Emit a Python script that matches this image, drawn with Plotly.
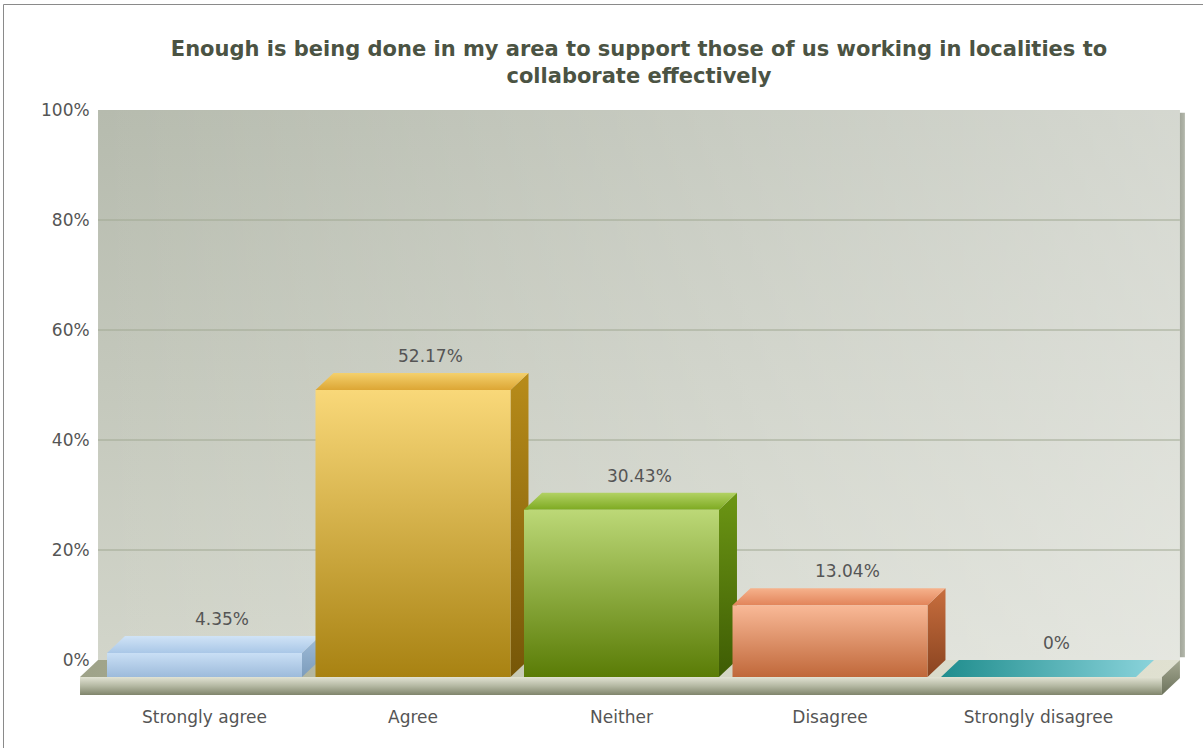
import plotly.graph_objects as go

# ---- data -------------------------------------------------------------
categories = ["Strongly agree", "Agree", "Neither", "Disagree", "Strongly disagree"]
values = [4.35, 52.17, 30.43, 13.04, 0]
y_ticks = [0, 20, 40, 60, 80, 100]
y_tick_labels = [f"{t}%" for t in y_ticks]
title_text = ("Enough is being done in my area to support those of us working in localities to"
              "<br>collaborate effectively")

# ---- per-bar palette: front (bottom, top), top face, side (bottom, top) -----
front_colors = [("#9dbbdb", "#c9dff5"), ("#a88212", "#f9d879"), ("#5a7c06", "#bcd877"),
                ("#c0683a", "#f9b997"), ("#1e8a8c", "#5fc0c8")]
top_colors = [("#a9c7e7", "#d0e3f6"), ("#dca634", "#f4d06c"), ("#7eaa22", "#b2d264"),
              ("#e2845a", "#f6b28c"), ("#1f8d8d", "#8ad3db")]
top_gradient = ["vertical", "vertical", "vertical", "vertical", "horizontal"]
side_colors = [("#7c9cbc", "#9fbcd8"), ("#765608", "#b88c1a"), ("#3e5c04", "#6c9614"),
               ("#8a4420", "#c86e3e"), ("#1a7070", "#3a9898")]

# ---- geometry (category units on x, percent of the back wall on y) ----
X_RANGE = [-0.9808, 4.7890]
Y_RANGE = [-16.0, 120.0]
HALF_W = 0.4676          # half of a bar's front face width
DX = 0.0863              # depth offset to the right
DY = 3.09                # depth offset upward
SLAB = 3.27              # floor thickness
FLOOR_L, FLOOR_R = -0.597, 4.592
WALL_L, WALL_R = FLOOR_L + DX, FLOOR_R + DX

FONT = "DejaVu Sans"
TEXT_COLOR = "#555555"


def face(xs, ys, stops, kind="vertical"):
    """Filled polygon with a linear gradient."""
    return go.Scatter(
        x=list(xs) + [xs[0]], y=list(ys) + [ys[0]],
        mode="lines", fill="toself",
        line=dict(width=0, color="rgba(0,0,0,0)"),
        fillgradient=dict(type=kind, colorscale=[[i / (len(stops) - 1), c] for i, c in enumerate(stops)]),
        hoverinfo="skip", showlegend=False,
    )


fig = go.Figure()

# back wall
wall_x = [WALL_L, WALL_R, WALL_R, WALL_L]
wall_y = [0, 0, 100, 100]
fig.add_trace(face(wall_x, wall_y, ["#d2d5ca", "#b6bbae"]))
fig.add_trace(face(wall_x, wall_y, ["rgba(255,255,255,0)", "rgba(255,255,255,0.42)"], "horizontal"))
fig.add_trace(face([WALL_R, WALL_R + 0.024, WALL_R + 0.024, WALL_R], [0.5, 0.5, 99.5, 99.5],
                   ["#a2a69a", "#b4b8ac"], "horizontal"))

# grid lines on the wall
for t in y_ticks[1:-1]:
    fig.add_trace(go.Scatter(x=[WALL_L, WALL_R], y=[t, t], mode="lines",
                             line=dict(color="#a0a892", width=1),
                             hoverinfo="skip", showlegend=False))

# floor slab
fig.add_trace(face([FLOOR_L, FLOOR_R, WALL_R, WALL_L], [-DY, -DY, 0, 0],
                   ["#9ea288", "#d2d4c2", "#e0e1d1"], "horizontal"))
fig.add_trace(face([FLOOR_L, FLOOR_R, FLOOR_R, FLOOR_L], [-DY - SLAB, -DY - SLAB, -DY, -DY],
                   ["#80856c", "#b4b8a2", "#e2e3d4"]))
fig.add_trace(face([FLOOR_R, WALL_R, WALL_R, FLOOR_R], [-DY, 0, -SLAB, -DY - SLAB],
                   ["#6c725c", "#a4a890"]))

# 3D bars
for i, v in enumerate(values):
    xl, xr = i - HALF_W, i + HALF_W
    if v > 0:
        fig.add_trace(face([xr, xr + DX, xr + DX, xr], [-DY, 0, v, v - DY], list(side_colors[i])))
    fig.add_trace(face([xl, xr, xr + DX, xl + DX], [v - DY, v - DY, v, v],
                       list(top_colors[i]), top_gradient[i]))
    if v > 0:
        fig.add_trace(face([xl, xr, xr, xl], [-DY, -DY, v - DY, v - DY], list(front_colors[i])))
    fig.add_annotation(x=i + DX, y=v, text=f"{v:g}%", showarrow=False, yshift=17,
                       font=dict(family=FONT, size=17, color=TEXT_COLOR))

axis_common = dict(showgrid=False, zeroline=False, showline=False, fixedrange=True,
                   automargin=False, ticks="outside", tickcolor="rgba(0,0,0,0)",
                   tickfont=dict(family=FONT, size=17, color=TEXT_COLOR))

fig.update_layout(
    width=1203, height=748, autosize=False,
    margin=dict(l=0, r=0, t=0, b=0, pad=0),
    template="none",
    paper_bgcolor="white", plot_bgcolor="rgba(0,0,0,0)",
    showlegend=False,
    title=dict(text=title_text, x=(0.5 * (WALL_L + WALL_R) - X_RANGE[0]) / (X_RANGE[1] - X_RANGE[0]),
               xanchor="center", y=1 - 56 / 748, yanchor="middle",
               font=dict(family=FONT, size=21, color="#4b5343", weight="bold")),
    xaxis=dict(range=X_RANGE, anchor="free",
               position=(-DY - SLAB - Y_RANGE[0]) / (Y_RANGE[1] - Y_RANGE[0]),
               tickvals=list(range(len(categories))), ticktext=categories, ticklen=7,
               **axis_common),
    yaxis=dict(range=Y_RANGE, anchor="free",
               position=(WALL_L - X_RANGE[0]) / (X_RANGE[1] - X_RANGE[0]),
               tickvals=y_ticks, ticktext=y_tick_labels, ticklen=5,
               **axis_common),
    shapes=[dict(type="rect", xref="paper", yref="paper", x0=3.5 / 1203, y0=-0.05,
                 x1=1.05, y1=1 - 4.5 / 748, line=dict(color="#8a8a8a", width=1),
                 fillcolor="rgba(0,0,0,0)", layer="above")],
)

fig.write_html("out.html")
